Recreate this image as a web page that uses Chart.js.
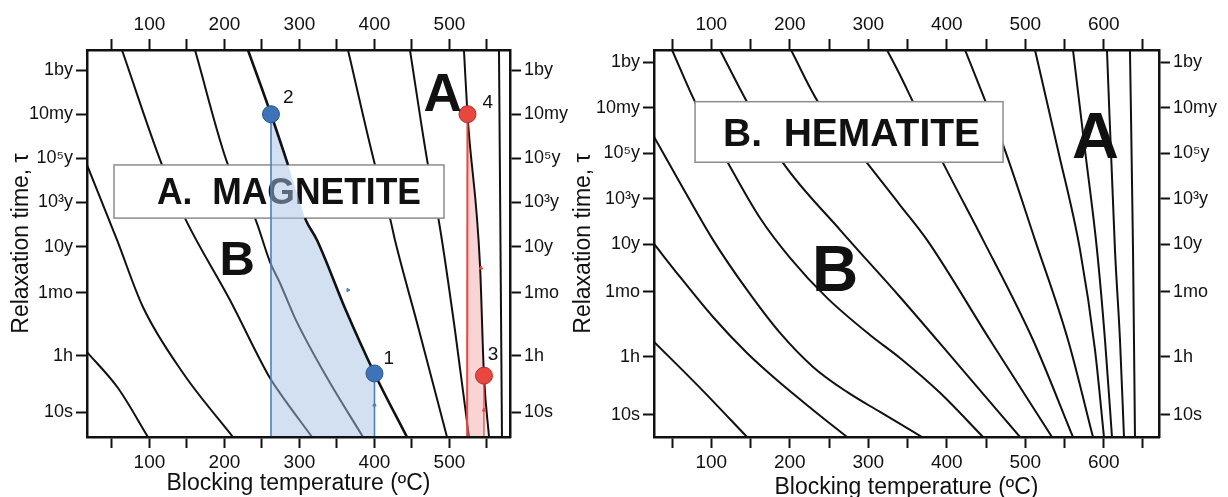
<!DOCTYPE html>
<html>
<head>
<meta charset="utf-8">
<script src="https://cdn.jsdelivr.net/npm/chart.js@4.4.1/dist/chart.umd.min.js"></script>
<style>
  html, body { margin: 0; padding: 0; background: #fff; width: 1228px; height: 497px; overflow: hidden; }
  canvas { position: absolute; top: 0; }
  #mag { left: 0; }
  #hem { left: 562px; }
</style>
</head>
<body>
<canvas id="mag" width="578" height="497"></canvas>
<canvas id="hem" width="666" height="501"></canvas>
<script>
// relaxation time ticks, in log10(seconds)
const yTickValues = [16.5, 14.5, 12.5, 10.5, 8.5, 6.41, 3.56, 1];
const yTickLabels = ["1by", "10my", "10\u2075y", "10\u00B3y", "10y", "1mo", "1h", "10s"];

const magXTicks = [50, 100, 150, 200, 250, 300, 350, 400, 450, 500, 550];
const hemXTicks = [50, 100, 150, 200, 250, 300, 350, 400, 450, 500, 550, 600, 650];

// magnetite blocking curves: [temperature ºC, log10 tau (s)]
const mag1 = [[16.7, 3.72], [58, 2.09], [98, -0.13]];
const mag2 = [[16.7, 12.2], [56.7, 8.8], [91.3, 5.76], [144.7, 2.77], [211.3, -0.13]];
const mag3 = [[63.3, 17.41], [116.7, 12.2], [147.3, 9.79], [207.3, 6.08], [260.7, 2.54], [274, 1.86], [316.7, -0.13]];
const mag4 = [[160.7, 17.41], [204.7, 12.2], [240.7, 9.79], [260.7, 7.8], [274, 6.85], [294, 5.26], [337, 2.54], [384.7, -0.13]];
const mag5 = [[231.3, 17.41], [262, 14.5], [284.7, 12.2], [307.3, 9.79], [323.3, 8.8], [362, 5.6], [400, 2.75], [443.3, -0.13]];
const mag6 = [[364.7, 17.41], [400.7, 12.2], [420.7, 9.79], [427.3, 8.8], [459.3, 4.72], [496.7, -0.13]];
const mag7 = [[447.3, 17.41], [471.3, 12.2], [486.7, 9.48], [507.3, 4.72], [526, -0.13]];
const mag8 = [[519.3, 17.41], [524, 14.5], [540.7, 7.66], [546, 2.65], [552.7, -0.13]];
const mag9 = [[566, 17.41], [570, -0.13]];

// shaded paths (1 -> 2 magnetite, 3 -> 4 hematite-type)
const bluePath = [[262, 14.5], [262, -0.4], [400, -0.4], [400, 2.75], [362, 5.6], [323.3, 8.8], [307.3, 9.79], [284.7, 12.2], [262, 14.5]];
const redPath = [[524, 14.5], [523.5, -0.4], [546, -0.4], [546, 2.65], [540.7, 7.66], [524, 14.5]];
const blueDrops = [[[262, 14.5], [262, -0.13]], [[400, 2.75], [400, -0.13]]];
const redDrops = [[[524, 14.5], [523.5, -0.13]], [[546, 2.65], [546, -0.13]]];
const bluePoints = [[400, 2.75], [262, 14.5]];
const redPoints = [[546, 2.65], [524, 14.5]];
const blueArrowsUp = [[400, 1.32]];
const blueArrowsSlope = [[364.7, 6.53]];
const redArrows = [[542, 7.53], [546, 1.09]];

// hematite blocking curves
const hem1 = [[27.1, 4.21], [85.7, 2.19], [145.5, 0.03]];
const hem2 = [[27.1, 8.51], [60.2, 7.06], [102.2, 5.3], [145.5, 3.72], [187.6, 2.41], [229.6, 1.22], [272.9, 0.03]];
const hem3 = [[27.1, 13.21], [60.2, 11.19], [102.2, 8.69], [145.5, 6.49], [187.6, 4.6], [229.6, 3.11], [272.9, 2.01], [315, 1.13], [368.5, 0.03]];
const hem4 = [[50, 17.03], [79.3, 14.75], [121.3, 12.07], [162.1, 9.65], [200.3, 7.9], [247.5, 6.14], [302.2, 4.51], [340.4, 3.5], [391.4, 1.97], [446.2, 0.03]];
const hem5 = [[111.1, 17.03], [145.5, 14.75], [191.4, 12.07], [264, 9.13], [340.4, 6.18], [416.9, 3.11], [493.3, 0.03]];
const hem6 = [[201.6, 17.03], [236, 14.75], [298.4, 12.07], [340.4, 10.22], [374.8, 8.69], [455.1, 4.29], [534.1, 0.03]];
const hem7 = [[323.9, 17.03], [340.4, 15.93], [357, 14.75], [395.2, 12.07], [446.2, 8.69], [509.9, 4.29], [560.8, 0.03]];
const hem8 = [[423.3, 17.03], [448.7, 14.83], [471.7, 12.86], [512.4, 8.69], [554.5, 4.29], [586.3, 0.03]];
const hem9 = [[512.4, 17.03], [541.7, 12.64], [569.8, 8.25], [588.9, 3.85], [600.3, 0.03]];
const hem10 = [[560.8, 17.03], [576.1, 12.64], [591.4, 8.25], [601.6, 4.29], [610.5, 0.03]];
const hem11 = [[604.1, 17.03], [614.3, 8.25], [620.7, 4.29], [625.8, 0.03]];
const hem12 = [[633.4, 17.03], [637.3, 8.25], [639.8, 0.03]];

const FONT = "'Liberation Sans', Arial, Helvetica, sans-serif";
Chart.defaults.font.family = FONT;
Chart.defaults.color = "#111";

function pts(arr) {
    return arr.map(p => ({ x: p[0], y: p[1] }));
}

function curve(arr, extra) {
    return Object.assign({
        data: pts(arr), showLine: true, borderColor: "#111", borderWidth: 2,
        pointRadius: 0, pointHoverRadius: 0, cubicInterpolationMode: "monotone", fill: false,
        xAxisID: "x", yAxisID: "y", order: 3
    }, extra || {});
}

function marks(arr, extra) {
    return Object.assign({
        data: pts(arr), showLine: false, xAxisID: "x", yAxisID: "y", order: 0
    }, extra);
}

function buildScales(xr, yr, xTicks, sz) {
    const grid = { display: true, drawOnChartArea: false, tickLength: 11, tickWidth: 2, tickColor: "#111" };
    const border = { display: true, width: 2.5, color: "#111", z: 1 };
    const xAxis = (pos, h, title) => ({
        type: "linear", axis: "x", position: pos, min: xr[0], max: xr[1], grid, border,
        afterBuildTicks: s => { s.ticks = xTicks.map(v => ({ value: v })); },
        afterFit: s => { s.height = h; },
        ticks: {
            autoSkip: false, maxRotation: 0, padding: 3, color: "#111", font: { size: 19 },
            callback: v => (v % 100 === 0 ? String(v) : "")
        },
        title: { display: !!title, text: title || "", color: "#111", font: { size: 23 }, padding: { top: 0, bottom: 0 } }
    });
    const yAxis = (pos, w, title) => ({
        type: "linear", axis: "y", position: pos, min: yr[0], max: yr[1], grid, border,
        afterBuildTicks: s => { s.ticks = yTickValues.map(v => ({ value: v })); },
        afterFit: s => { s.width = w; },
        ticks: {
            autoSkip: false, padding: 3, color: "#111", font: { size: 18 },
            callback: (v, i) => yTickLabels[i]
        },
        title: { display: !!title, text: title || "", color: "#111", font: { size: 23 }, padding: { top: 8, bottom: 0 } }
    });
    return {
        x: xAxis("bottom", sz.bottom, "Blocking temperature (\u00BAC)"),
        x2: xAxis("top", sz.top, null),
        y: yAxis("left", sz.left, "Relaxation time, \u03C4"),
        y2: yAxis("right", sz.right, null)
    };
}

function drawBox(chart, box) {
    const { ctx, scales: { x, y } } = chart;
    const l = x.getPixelForValue(box.x0), r = x.getPixelForValue(box.x1);
    const t = y.getPixelForValue(box.y0), b = y.getPixelForValue(box.y1);
    ctx.save();
    ctx.fillStyle = "#fff";
    ctx.fillRect(l, t, r - l, b - t);
    ctx.strokeStyle = "#8c8c8c";
    ctx.lineWidth = 1.5;
    ctx.strokeRect(l, t, r - l, b - t);
    ctx.fillStyle = "#111";
    ctx.font = "bold " + box.size + "px " + FONT;
    ctx.textAlign = "center";
    ctx.textBaseline = "alphabetic";
    ctx.fillText(box.text, x.getPixelForValue(box.tx), (t + b) / 2 + 0.358 * box.size, box.maxW);
    ctx.restore();
}

const decor = {
    id: "decor",
    afterDatasetDraw(chart, args, opts) {
        // dataset 0 is the last black curve painted, the label box sits on the curves
        if (args.index === 0 && opts.box) drawBox(chart, opts.box);
    },
    afterDatasetsDraw(chart, args, opts) {
        const { ctx, scales: { x, y } } = chart;
        ctx.save();
        ctx.fillStyle = "#111";
        ctx.textAlign = "center";
        ctx.textBaseline = "alphabetic";
        (opts.texts || []).forEach(tx => {
            ctx.font = (tx[4] ? "bold " : "") + tx[3] + "px " + FONT;
            ctx.fillText(tx[0], x.getPixelForValue(tx[1]), y.getPixelForValue(tx[2]) + 0.358 * tx[3]);
        });
        ctx.restore();
    }
};

function makeChart(id, datasets, scales, decorOpts) {
    return new Chart(document.getElementById(id), {
        type: "scatter",
        data: { datasets },
        options: {
            responsive: false, animation: false, devicePixelRatio: 1, events: [],
            layout: { padding: 0 },
            plugins: { legend: { display: false }, tooltip: { enabled: false }, decor: decorOpts },
            scales
        },
        plugins: [decor]
    });
}

// ---------- magnetite ----------
const magBox = { x0: 52.7, x1: 492.7, y0: 12.2, y1: 9.79, tx: 286, text: "A.  MAGNETITE", size: 36, maxW: 264 };
const insideBox = c => c.p0.parsed.y <= magBox.y0 && c.p1.parsed.y >= magBox.y1 &&
    c.p0.parsed.y >= magBox.y1 && c.p1.parsed.y <= magBox.y0;

const magSets = [mag1, mag2, mag3, mag4, mag6, mag7, mag9].map(c => curve(c));
magSets.push(curve(bluePath, { borderColor: "rgba(0,0,0,0)", borderWidth: 1, cubicInterpolationMode: "default", tension: 0, fill: "shape", backgroundColor: "rgba(168,193,230,0.5)", order: 2 }));
magSets.push(curve(redPath, { borderColor: "rgba(0,0,0,0)", borderWidth: 1, cubicInterpolationMode: "default", tension: 0, fill: "shape", backgroundColor: "rgba(244,160,160,0.45)", order: 2 }));
blueDrops.forEach(d => magSets.push(curve(d, { borderColor: "#4a80c4", borderWidth: 1.6, order: 1 })));
redDrops.forEach((d, i) => magSets.push(curve(d, { borderColor: "#e8463e", borderWidth: i === 0 ? 2 : 1.3, order: 1 })));
magSets.push(curve(mag5, { borderWidth: 2.6, order: 1, segment: { borderColor: c => (insideBox(c) ? "rgba(0,0,0,0)" : undefined) } }));
magSets.push(curve(mag8, { borderWidth: 2, order: 1 }));
magSets.push(marks(blueArrowsUp, { pointStyle: "triangle", pointRadius: 2, backgroundColor: "#4a80c4", borderColor: "#4a80c4" }));
magSets.push(marks(blueArrowsSlope, { pointStyle: "triangle", pointRadius: 2, rotation: -28, backgroundColor: "#4a80c4", borderColor: "#4a80c4" }));
magSets.push(marks(redArrows, { pointStyle: "triangle", pointRadius: 2, backgroundColor: "#e8463e", borderColor: "#e8463e" }));
magSets.push(marks(bluePoints, { pointRadius: 8.5, pointBorderWidth: 1, backgroundColor: "#3e73ba", borderColor: "#2a568f" }));
magSets.push(marks(redPoints, { pointRadius: 8.5, pointBorderWidth: 1, backgroundColor: "#e8463e", borderColor: "#a8322c" }));

makeChart("mag", magSets,
    buildScales([16.7, 580.7], [-0.13, 17.41], magXTicks, { top: 50, bottom: 60, left: 87, right: 68 }),
    {
        box: magBox,
        texts: [
            ["2", 285, 15.3, 19], ["1", 419, 3.5, 19], ["4", 551, 15.1, 19], ["3", 558, 3.65, 19],
            ["A", 491, 15.5, 53, true], ["B", 217, 8.0, 49, true]
        ]
    });

// ---------- hematite ----------
const hemSets = [hem1, hem2, hem3, hem4, hem5, hem6, hem7, hem8, hem9, hem10, hem11, hem12].map(c => curve(c));

makeChart("hem", hemSets,
    buildScales([27, 670.4], [0.03, 17.03], hemXTicks, { top: 50, bottom: 64, left: 92, right: 69 }),
    {
        box: { x0: 79.3, x1: 471.7, y0: 14.76, y1: 12.1, tx: 278.7, text: "B.  HEMATITE", size: 39, maxW: 268 },
        texts: [
            ["A", 589.5, 13.3, 65, true], ["B", 257.6, 7.43, 64, true]
        ]
    });
</script>
</body>
</html>
